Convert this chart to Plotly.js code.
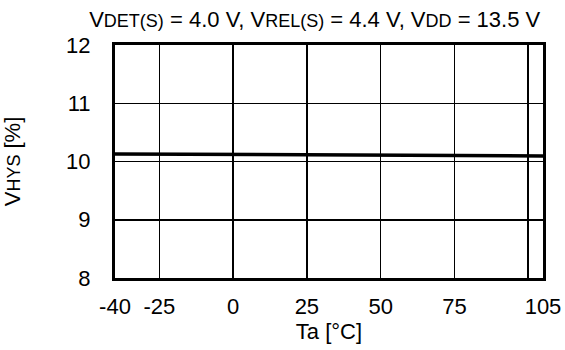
<!DOCTYPE html>
<html>
<head>
<meta charset="utf-8">
<script src="https://cdn.plot.ly/plotly-3.0.1.min.js"></script>
<style>html,body{margin:0;padding:0;background:#fff;}#chart{width:565px;height:350px;}</style>
</head>
<body>
<div id="chart"></div>
<script>
const ta = [-40, -25, 0, 25, 50, 75, 105];
const vhys = [10.13, 10.125, 10.12, 10.11, 10.105, 10.10, 10.095];
const xTickVals = [-40, -25, 0, 25, 50, 75, 100, 105];
const xTickText = ['-40', '-25', '0', '25', '50', '75', '', '105'];
const yTickVals = [8, 9, 10, 11, 12];

const FONT = 'Liberation Sans, Arial, sans-serif';
const sub = (s, sz) => '<span style="font-size:' + sz + 'px">' + s + '</span>';

Plotly.newPlot('chart', [{
  x: ta, y: vhys, type: 'scatter', mode: 'lines',
  line: {color: '#000', width: 3.5}, hoverinfo: 'none'
}], {
  width: 565, height: 350,
  margin: {l: 115, r: 22, t: 45, b: 72},
  paper_bgcolor: '#fff', plot_bgcolor: '#fff',
  showlegend: false,
  font: {family: FONT, color: '#000', size: 22},
  title: {
    text: 'V' + sub('DET(S)', 18) + ' = 4.0 V, V' + sub('REL(S)', 18) + ' = 4.4 V, V' + sub('DD', 18) + ' = 13.5 V',
    font: {family: FONT, size: 22, color: '#000'},
    x: 0.557, xanchor: 'center', y: 0.945, yanchor: 'middle'
  },
  xaxis: {
    range: [-40, 105], tickvals: xTickVals, ticktext: xTickText,
    showgrid: true, gridcolor: '#000', gridwidth: 1.5,
    showline: true, linecolor: '#000', linewidth: 3, mirror: true,
    ticks: 'outside', ticklen: 7, tickcolor: 'rgba(0,0,0,0)',
    zeroline: false, tickfont: {family: FONT, size: 22, color: '#000'},
    title: {text: 'Ta [°C]', font: {family: FONT, size: 22, color: '#000'}, standoff: 4}
  },
  yaxis: {
    range: [8, 12], tickvals: yTickVals,
    showgrid: true, gridcolor: '#000', gridwidth: 1.5,
    showline: true, linecolor: '#000', linewidth: 3, mirror: true,
    ticks: 'outside', ticklen: 17, tickcolor: 'rgba(0,0,0,0)',
    zeroline: false, tickfont: {family: FONT, size: 22, color: '#000'},
    title: {text: 'V' + sub('HYS', 18) + ' [%]', font: {family: FONT, size: 22, color: '#000'}, standoff: 40}
  }
}, {displayModeBar: false, staticPlot: true});
</script>
</body>
</html>
